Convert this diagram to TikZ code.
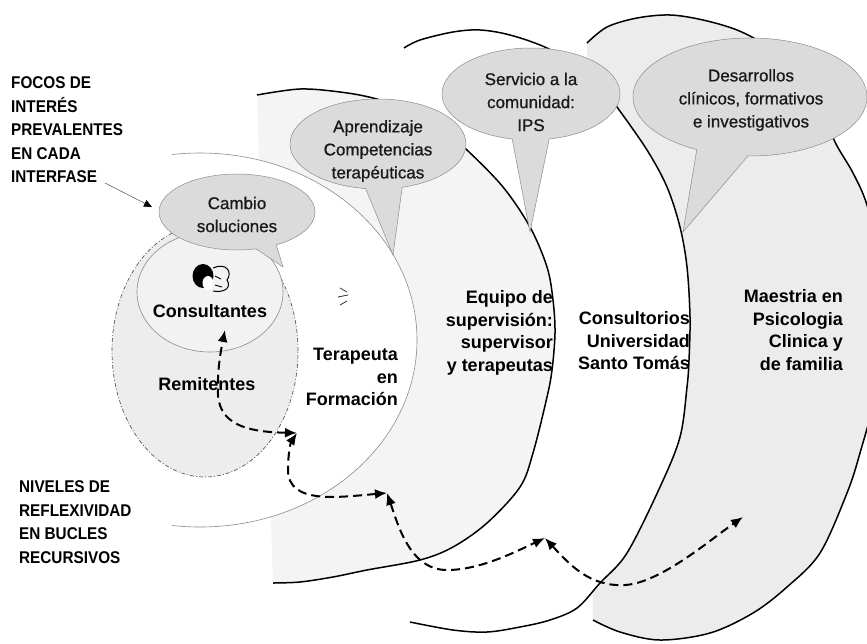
\documentclass[tikz,border=0pt]{standalone}
\usepackage{fontspec}
\setmainfont{Liberation Sans}
\newfontfamily\narrowfont[FakeStretch=0.9]{Liberation Sans}
\newfontfamily\calfont[FakeBold=0.8]{Liberation Sans}
\usetikzlibrary{shapes.callouts,shapes.geometric,arrows.meta}
\definecolor{maefill}{gray}{0.925}
\definecolor{equfill}{gray}{0.955}
\definecolor{remfill}{gray}{0.93}
\definecolor{confill}{gray}{0.95}
\definecolor{calfill}{gray}{0.86}
\begin{document}
\begin{tikzpicture}[x=1pt,y=-1pt,
  crescent/.style={line width=1.5pt, draw=black},
  thinline/.style={line width=0.6pt, draw=black!45},
  callout/.style={ellipse callout, draw=black!45, line width=0.5pt, fill=calfill, inner sep=0pt},
  ctext/.style={font=\calfont\fontsize{17}{23}\selectfont, align=center, text=black!90},
  lab/.style={font=\fontsize{18}{22.5}\selectfont\bfseries, align=right, inner sep=0pt},
  side/.style={font=\narrowfont\fontsize{17}{23.5}\selectfont\bfseries, align=left, anchor=west, inner sep=0pt},
  loop/.style={line width=2pt, dash pattern=on 9pt off 5pt, {Latex[length=12pt,width=10pt]}-{Latex[length=12pt,width=10pt]}},
]
\useasboundingbox (0,0) rectangle (867,643);
\fill[white] (0,0) rectangle (867,643);

% Maestria crescent
\draw[crescent, fill=maefill] plot[smooth, tension=0.55] coordinates {(587,43) (607,27) (637,18) (670,15) (703,20) (737,30) (765,45) (795,70) (820,105) (835,142) (853,173) (867,205) (880,260) (885,320) (878,385) (860,453) (847,493) (820,553) (787,587) (753,613) (710,633) (660,640) (620,632) (593,620)};

% Consultorios crescent
\draw[crescent, fill=white] plot[smooth, tension=0.55] coordinates {(404,48) (420,40) (453,32) (480,30) (510,35) (547,48) (580,68) (600,85) (617,107) (647,150) (667,187) (680,227) (687,267) (690,317) (689,360) (687,387) (680,437) (660,487) (627,553) (600,583) (577,608) (550,620) (520,627) (487,632) (453,630) (410,622)};

% Equipo crescent
\draw[crescent, fill=equfill] plot[smooth, tension=0.55] coordinates {(257,95) (300,89) (340,92) (373,98) (410,110) (440,127) (467,150) (503,187) (530,227) (547,267) (553,300) (555,333) (552,370) (547,397) (533,453) (520,487) (487,523) (453,547) (420,560) (367,570) (333,577) (300,582) (273,583)};

% Terapeuta region
\begin{scope}
\clip (172,0) rectangle (500,643);
\draw[thinline, fill=white] (200,340) ellipse [x radius=217, y radius=187];
\end{scope}

% Remitentes and Consultantes
\node[ellipse, draw=black!65, line width=0.7pt, dash pattern=on 4pt off 2pt on 1pt off 2pt, fill=remfill, minimum width=186, minimum height=252, inner sep=0pt] (remit) at (205,351) {};
\node[ellipse, thinline, fill=confill, minimum width=146, minimum height=120, inner sep=0pt] (consul) at (210,292) {};

% callouts
\node[callout, minimum width=178, minimum height=92, callout absolute pointer={(530,232)}, callout pointer arc=24] (serv) at (531,94) {};
\node[callout, minimum width=176, minimum height=90, callout absolute pointer={(393,255)}, callout pointer arc=24] (apren) at (378,144) {};
\node[callout, minimum width=156, minimum height=76, callout absolute pointer={(283,267)}, callout pointer arc=16] (cambio) at (237,212) {};
\node[callout, minimum width=234, minimum height=118, callout absolute pointer={(683,232)}, callout pointer arc=26] (desar) at (750,97) {};

\node[ctext] (tcambio) at (237,214.5) {Cambio\\soluciones};
\node[ctext] (tapren) at (378,151) {Aprendizaje\\Competencias\\terapéuticas};
\node[ctext] (tserv) at (531,102) {Servicio a la\\comunidad:\\IPS};
\node[ctext] (tdesar) at (751,100) {Desarrollos\\clínicos, formativos\\e investigativos};

% icon
\fill[black] (203,276) ellipse [x radius=10.5, y radius=12];
\fill[white] (208,283) ellipse [x radius=5.5, y radius=7];
\draw[black, line width=1pt] (213,268) .. controls (226,262) and (233,272) .. (227,280) .. controls (232,288) and (224,293) .. (213,291);
\draw[black, line width=0.9pt] (215,276) -- (221,279) (215,285) -- (222,287);

% small mark
\draw[black!80, line width=0.8pt] (340,288) -- (347,292) (338,297) -- (348,295) (340,305) -- (347,301);

% labels
\node[lab, anchor=base] (lcons) at (210,317) {Consultantes};
\node[lab, anchor=base] (lremi) at (207,390) {Remitentes};
\node[lab, anchor=east] (lter) at (398,377) {Terapeuta\\en\hspace*{18pt}\\Formación};
\node[lab, anchor=east] (lequ) at (553,333) {Equipo de\\supervisión:\\supervisor\\y terapeutas};
\node[lab, anchor=east] (lcon) at (690,341) {Consultorios\\Universidad\\Santo Tomás};
\node[lab, anchor=east] (lmae) at (843,330) {Maestria en\\Psicologia\\Clinica y\\de familia};

\node[side] (focos) at (11,130) {FOCOS DE\\INTERÉS\\PREVALENTES\\EN CADA\\INTERFASE};
\node[side] (nivel) at (19,522) {NIVELES DE\\REFLEXIVIDAD\\EN BUCLES\\RECURSIVOS};

\coordinate (f1) at (105,183);
\coordinate (f2) at (152,207);
\draw[black!60, line width=0.6pt, -{Triangle[length=8pt,width=7pt,black]}] (f1) -- (f2);

% recursive loops
\coordinate (j1) at (297,433);
\coordinate (j2) at (387,493);
\coordinate (j3) at (545,538);
\coordinate (a1) at (225,330);
\coordinate (a4) at (743,517);
\draw[loop] (j1) .. controls (255,432) and (220,428) .. (218,395) .. controls (217,370) and (221,350) .. (a1);
\draw[loop] (j2) .. controls (340,497) and (288,505) .. (288,470) .. controls (288,452) and (291,442) .. (j1);
\draw[loop] (j2) .. controls (398,525) and (410,570) .. (447,570) .. controls (480,570) and (515,552) .. (j3);
\draw[loop] (j3) .. controls (570,565) and (590,587) .. (625,585) .. controls (660,583) and (710,540) .. (a4);
\end{tikzpicture}
\end{document}
